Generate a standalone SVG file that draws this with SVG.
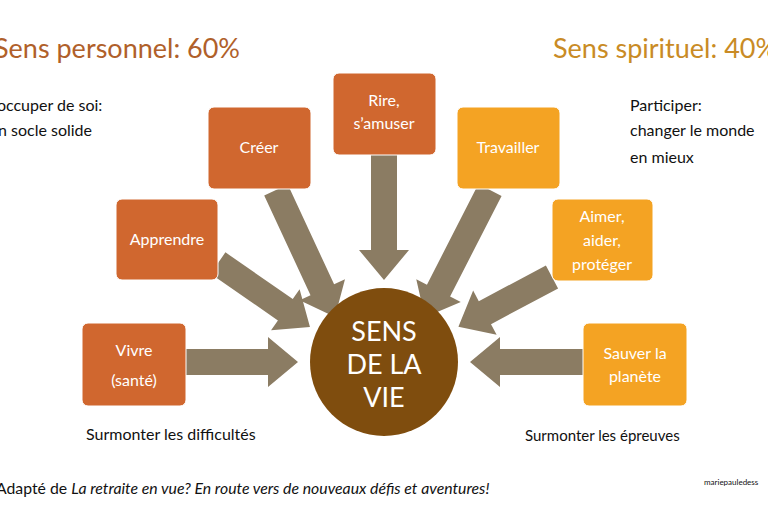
<svg xmlns="http://www.w3.org/2000/svg" width="768" height="512" viewBox="0 0 768 512">
<style>
text{font-family:Lato,"Open Sans",sans-serif}
.d rect{fill:#D0672F;stroke:#fff;stroke-width:1}
.o rect{fill:#F4A323;stroke:#fff;stroke-width:1}
.bt{fill:#fff;font-size:16px;text-anchor:middle}
.ar{fill:#8B7C63}
.k{fill:#111;font-size:16px}
</style>
<rect width="768" height="512" fill="#fff"/>
<text x="-6" y="58" style="font-size:27px;fill:#B0602A">Sens personnel: 60%</text>
<text x="553" y="58" style="font-size:27px;fill:#C98B25">Sens spirituel: 40%</text>
<text class="k" x="-6" y="111">’occuper de soi:</text>
<text class="k" x="-2" y="136">n socle solide</text>
<text class="k" x="630" y="111">Participer:</text>
<text class="k" x="630" y="136">changer le monde</text>
<text class="k" x="630" y="163">en mieux</text>
<g id="connectors" class="ar">
<polygon transform="translate(186,362) rotate(0)" points="0,-13 82,-13 82,-25 112,0 82,25 82,13 0,13"/>
<polygon transform="translate(218,263) rotate(34.8)" points="0,-13 82,-13 82,-25 112,0 82,25 82,13 0,13"/>
<polygon transform="translate(276,190) rotate(65.1)" points="0,-13 110,-13 110,-25 140,0 110,25 110,13 0,13"/>
<polygon transform="translate(384,155) rotate(90)" points="0,-13 95,-13 95,-25 125,0 95,25 95,13 0,13"/>
<polygon transform="translate(490,190) rotate(117.1)" points="0,-13 113,-13 113,-25 143,0 113,25 113,13 0,13"/>
<polygon transform="translate(552,277) rotate(152)" points="0,-13 76,-13 76,-25 106,0 76,25 76,13 0,13"/>
<polygon transform="translate(583,362) rotate(180)" points="0,-13 83,-13 83,-25 113,0 83,25 83,13 0,13"/>
</g>
<g id="vivre" class="d"><rect x="82" y="323" width="104" height="83" rx="6"/><text class="bt" x="134" y="356">Vivre</text><text class="bt" x="134" y="386">(santé)</text></g>
<g id="apprendre" class="d"><rect x="116" y="199" width="102" height="81" rx="6"/><text class="bt" x="167" y="245">Apprendre</text></g>
<g id="creer" class="d"><rect x="208" y="107" width="103" height="82" rx="6"/><text class="bt" x="259" y="153">Créer</text></g>
<g id="rire" class="d"><rect x="333" y="73" width="103" height="82" rx="6"/><text class="bt" x="384" y="106">Rire,</text><text class="bt" x="384" y="129">s’amuser</text></g>
<g id="travailler" class="o"><rect x="457" y="107" width="103" height="82" rx="6"/><text class="bt" x="508" y="153">Travailler</text></g>
<g id="aimer" class="o"><rect x="552" y="199" width="101" height="82" rx="6"/><text class="bt" x="602" y="222">Aimer,</text><text class="bt" x="602" y="246">aider,</text><text class="bt" x="602" y="270">protéger</text></g>
<g id="sauver" class="o"><rect x="583" y="323" width="104" height="83" rx="6"/><text class="bt" x="635" y="359">Sauver la</text><text class="bt" x="635" y="382">planète</text></g>
<g id="sens"><circle cx="384" cy="362" r="74" fill="#7F4D0E"/>
<text x="384" y="341" style="fill:#fff;font-size:27px;text-anchor:middle">SENS</text>
<text x="384" y="374" style="fill:#fff;font-size:27px;text-anchor:middle">DE LA</text>
<text x="384" y="407" style="fill:#fff;font-size:27px;text-anchor:middle">VIE</text></g>
<text class="k" x="86" y="440">Surmonter les difficultés</text>
<text x="525" y="441" style="font-size:15px;fill:#111">Surmonter les épreuves</text>
<text x="-4" y="494" style="font-size:15.8px;fill:#111">Adapté de <tspan font-style="italic">La retraite en vue? En route vers de nouveaux défis et aventures!</tspan></text>
<text x="704" y="485" style="font-size:8px;fill:#111">mariepauledess</text>
</svg>
